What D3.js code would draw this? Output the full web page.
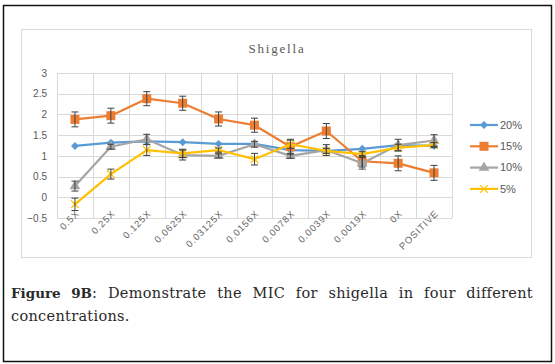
<!DOCTYPE html>
<html>
<head>
<meta charset="utf-8">
<script src="https://cdn.jsdelivr.net/npm/d3@7"></script>
<style>
  body { margin: 0; background: #fff; width: 555px; height: 364px; overflow: hidden; position: relative; }
  svg { position: absolute; left: 0; top: 0; }
  #caption { position: absolute; left: 11px; top: 282px; width: 522px; font-family: "DejaVu Serif", "Liberation Serif", serif; font-size: 14.5px; letter-spacing: 0.3px; line-height: 23px; color: #2a2a2a; }
  #caption b { font-size: 13.5px; letter-spacing: 0; }
  #caption .l1 { text-align: justify; text-align-last: justify; }
</style>
</head>
<body>
<div id="caption"><div class="l1"><b>Figure 9B</b>: Demonstrate the MIC for shigella in four different</div><div>concentrations.</div></div>
<script>
// categories on the x axis
var categories = ['0.5X', '0.25X', '0.125X', '0.0625X', '0.03125X', '0.0156X', '0.0078X', '0.0039X', '0.0019X', '0X', 'POSITIVE'];
var yTicks = [-0.5, 0, 0.5, 1, 1.5, 2, 2.5, 3];

// values
var s20 = [1.24, 1.32, 1.35, 1.33, 1.29, 1.29, 1.14, 1.12, 1.17, 1.26, 1.24];
var s15 = [1.88, 1.97, 2.38, 2.27, 1.89, 1.74, 1.22, 1.60, 0.87, 0.82, 0.59];
var s10 = [0.27, 1.22, 1.40, 1.02, 1.00, 1.28, 1.00, 1.14, 0.82, 1.26, 1.37];
var s5  = [-0.17, 0.56, 1.14, 1.06, 1.14, 0.92, 1.28, 1.12, 1.04, 1.20, 1.26];

// error bar half widths
var e20 = [0, 0, 0, 0, 0, 0, 0, 0, 0, 0, 0];
var e15 = [0.18, 0.18, 0.17, 0.17, 0.17, 0.17, 0.18, 0.18, 0.14, 0.18, 0.18];
var e10 = [0.12, 0.06, 0.12, 0.12, 0.05, 0.07, 0.06, 0.13, 0.14, 0.14, 0.14];
var e5  = [0.15, 0.12, 0.13, 0.10, 0.05, 0.14, 0.10, 0.06, 0.06, 0.08, 0.06];

var seriesNames = ['20%', '15%', '10%', '5%'];
var seriesColors = ['#5B9BD5', '#ED7D31', '#A5A5A5', '#FFC000'];
var seriesMarkers = ['diamond', 'square', 'triangle', 'x'];

var series = seriesNames.map(function(name, i) {
    return { name: name, color: seriesColors[i], marker: seriesMarkers[i],
             values: [s20, s15, s10, s5][i], errors: [e20, e15, e10, e5][i] };
});

var width = 555, height = 364;
var svg = d3.select('body').append('svg').attr('width', width).attr('height', height);

// outer frame and chart frame
svg.append('rect').attr('x', 3.5).attr('y', 5.5).attr('width', 548).attr('height', 356)
    .attr('fill', 'none').attr('stroke', '#111').attr('stroke-width', 1.5);
svg.append('rect').attr('x', 21.5).attr('y', 29.5).attr('width', 510).attr('height', 228)
    .attr('fill', '#fff').attr('stroke', '#D9D9D9').attr('stroke-width', 1);

var plot = { left: 57, right: 452, top: 73, bottom: 218 };

var x = d3.scaleBand().domain(categories).range([plot.left, plot.right]);
var y = d3.scaleLinear().domain([-0.5, 3]).range([plot.bottom, plot.top]);

var grid = svg.append('g');
grid.selectAll('line.h').data(yTicks).enter().append('line')
    .attr('x1', plot.left).attr('x2', plot.right)
    .attr('y1', function(d) { return Math.round(y(d)) + 0.5; })
    .attr('y2', function(d) { return Math.round(y(d)) + 0.5; })
    .attr('stroke', '#D9D9D9');
grid.selectAll('line.v').data(categories.concat(['end'])).enter().append('line')
    .attr('x1', function(d, i) { return Math.round(plot.left + i * x.bandwidth()) + 0.5; })
    .attr('x2', function(d, i) { return Math.round(plot.left + i * x.bandwidth()) + 0.5; })
    .attr('y1', plot.top).attr('y2', plot.bottom)
    .attr('stroke', '#D9D9D9');

// y axis labels
var yAxis = d3.axisLeft(y).tickValues(yTicks).tickSize(0).tickPadding(10).tickFormat(d3.format(''));
var yg = svg.append('g').attr('transform', 'translate(' + plot.left + ',0)').call(yAxis);
yg.select('.domain').remove();
yg.selectAll('text').attr('fill', '#595959').style('font-family', 'Liberation Sans, Arial, sans-serif').style('font-size', '10px');

// x axis labels, rotated
var xAxis = d3.axisBottom(x).tickSize(0).tickPadding(0);
var xg = svg.append('g').attr('transform', 'translate(0,' + plot.bottom + ')').call(xAxis);
xg.select('.domain').remove();
xg.selectAll('text')
    .attr('fill', '#666')
    .style('font-family', 'Liberation Sans, Arial, sans-serif')
    .style('font-size', '9.5px')
    .style('letter-spacing', '0.9px')
    .attr('text-anchor', 'end')
    .attr('dy', null).attr('y', 0)
    .attr('transform', 'translate(0,-9) rotate(-45)')
    .attr('dominant-baseline', 'hanging');

// title
svg.append('text').attr('x', 277).attr('y', 53).attr('text-anchor', 'middle')
    .attr('fill', '#595959').style('font-family', 'Liberation Serif, DejaVu Serif, serif')
    .style('font-size', '13px').style('letter-spacing', '1.8px').text('Shigella');

function drawMarker(g, type, color, cx, cy) {
    if (type === 'diamond') {
        g.append('path').attr('d', d3.symbol().type(d3.symbolDiamond2).size(40)())
            .attr('transform', 'translate(' + cx + ',' + cy + ')').attr('fill', color);
    } else if (type === 'square') {
        g.append('rect').attr('x', cx - 4.5).attr('y', cy - 4.5).attr('width', 9).attr('height', 9).attr('fill', color);
    } else if (type === 'triangle') {
        g.append('path').attr('d', d3.symbol().type(d3.symbolTriangle).size(50)())
            .attr('transform', 'translate(' + cx + ',' + cy + ')').attr('fill', color);
    } else {
        g.append('path').attr('d', d3.symbol().type(d3.symbolTimes).size(40)())
            .attr('transform', 'translate(' + cx + ',' + cy + ')')
            .attr('fill', 'none').attr('stroke', color).attr('stroke-width', 1.2);
    }
}

var line = d3.line()
    .x(function(d, i) { return x(categories[i]) + x.bandwidth() / 2; })
    .y(function(d) { return y(d); });

series.forEach(function(s) {
    var g = svg.append('g');
    g.append('path').datum(s.values).attr('d', line)
        .attr('fill', 'none').attr('stroke', s.color).attr('stroke-width', 2.2).attr('stroke-linejoin', 'round');
    s.values.forEach(function(v, i) {
        drawMarker(g, s.marker, s.color, x(categories[i]) + x.bandwidth() / 2, y(v));
    });
});

// error bars on top
series.forEach(function(s) {
    var g = svg.append('g').attr('stroke', '#404040').attr('stroke-width', 1);
    s.values.forEach(function(v, i) {
        var e = s.errors[i];
        if (!e) return;
        var cx = x(categories[i]) + x.bandwidth() / 2;
        g.append('line').attr('x1', cx).attr('x2', cx).attr('y1', y(v + e)).attr('y2', y(v - e));
        g.append('line').attr('x1', cx - 3.5).attr('x2', cx + 3.5).attr('y1', y(v + e)).attr('y2', y(v + e));
        g.append('line').attr('x1', cx - 3.5).attr('x2', cx + 3.5).attr('y1', y(v - e)).attr('y2', y(v - e));
    });
});

// legend
var legend = svg.append('g');
series.forEach(function(s, i) {
    var ly = 125 + i * 21.3;
    legend.append('line').attr('x1', 470).attr('x2', 498).attr('y1', ly).attr('y2', ly)
        .attr('stroke', s.color).attr('stroke-width', 2.2);
    drawMarker(legend, s.marker, s.color, 484, ly);
    legend.append('text').attr('x', 500).attr('y', ly).attr('dy', '0.35em')
        .attr('fill', '#595959').style('font-family', 'Liberation Sans, Arial, sans-serif')
        .style('font-size', '11px').text(s.name);
});
</script>
</body>
</html>
